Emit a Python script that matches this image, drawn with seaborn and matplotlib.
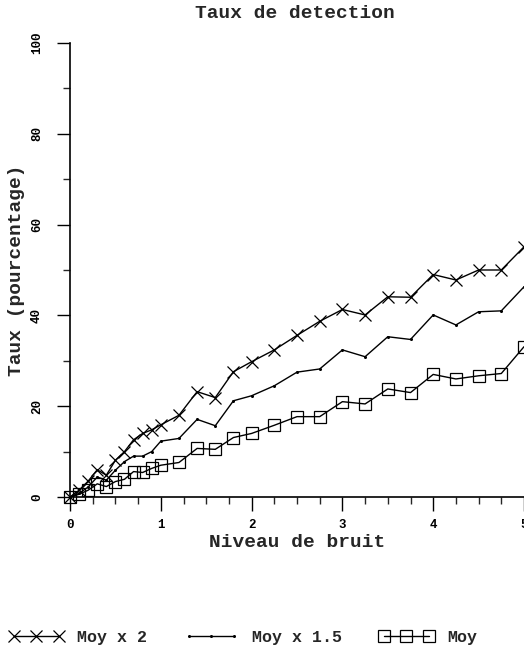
import matplotlib
matplotlib.use("Agg")
import matplotlib.pyplot as plt
import seaborn as sns
from matplotlib.ticker import MultipleLocator

# donnees
niveau = [0, 0.1, 0.2, 0.3, 0.4, 0.5, 0.6, 0.7, 0.8, 0.9, 1.0,
          1.2, 1.4, 1.6, 1.8, 2.0, 2.25, 2.5, 2.75, 3.0, 3.25,
          3.5, 3.75, 4.0, 4.25, 4.5, 4.75, 5.0]

moy_x2 = [0, 1.5, 3.5, 6.0, 4.8, 8.1, 10.0, 12.6, 14.0, 14.8, 15.9,
          18.0, 23.2, 21.9, 27.6, 29.8, 32.4, 35.6, 38.7, 41.3, 40.1,
          44.1, 44.0, 49.0, 47.8, 50.0, 50.0, 55.1]

moy_x15 = [0, 0.8, 2.2, 4.4, 3.7, 5.9, 7.8, 9.0, 9.0, 10.0, 12.3,
           12.9, 17.1, 15.7, 21.2, 22.3, 24.5, 27.5, 28.2, 32.4, 30.9,
           35.3, 34.7, 40.1, 37.9, 40.8, 41.0, 46.3]

moy = [0, 0.6, 1.5, 2.9, 2.3, 3.4, 3.9, 5.6, 5.4, 6.3, 7.0,
       7.6, 10.7, 10.5, 13.1, 14.0, 15.8, 17.7, 17.7, 21.0, 20.5,
       23.8, 23.0, 27.0, 26.0, 26.7, 27.2, 33.1]

sns.set_style("ticks")
plt.rcParams['font.family'] = ['Liberation Mono', 'DejaVu Sans Mono']
plt.rcParams['font.weight'] = 'bold'

fig = plt.figure(figsize=(5.24, 6.57), dpi=100)
ax = fig.add_axes([70/524, 160/657, 454/524, 454/657])

sns.lineplot(x=niveau, y=moy_x2, ax=ax, color="black", lw=1,
             marker="x", markersize=9, markeredgewidth=0.9,
             markeredgecolor="black",
             label="Moy x 2", clip_on=False)
sns.lineplot(x=niveau, y=moy_x15, ax=ax, color="black", lw=1,
             marker="o", markersize=2.2, markeredgewidth=0,
             markerfacecolor="black",
             label="Moy x 1.5", clip_on=False)
sns.lineplot(x=niveau, y=moy, ax=ax, color="black", lw=1,
             marker="s", markersize=8, markerfacecolor="none",
             markeredgecolor="black", markeredgewidth=0.9,
             label="Moy", clip_on=False)

ax.set_xlim(0, 5)
ax.set_ylim(0, 100)
ax.xaxis.set_major_locator(MultipleLocator(1))
ax.xaxis.set_minor_locator(MultipleLocator(0.25))
ax.yaxis.set_major_locator(MultipleLocator(20))
ax.yaxis.set_minor_locator(MultipleLocator(10))

sns.despine(ax=ax)
for s in ["left", "bottom"]:
    ax.spines[s].set_linewidth(1.2)
    ax.spines[s].set_color("black")

ax.tick_params(axis="x", which="major", length=10, width=1, pad=6,
               labelsize=9, colors="black")
ax.tick_params(axis="x", which="minor", length=5, width=1)
ax.tick_params(axis="y", which="major", length=9.5, width=1, pad=10,
               labelsize=9, colors="black", labelrotation=90)
ax.tick_params(axis="y", which="minor", length=5, width=1)
for t in ax.get_yticklabels():
    t.set_va("center")

ax.set_xlabel("Niveau de bruit", fontsize=14, fontweight="bold", labelpad=2)
ax.set_ylabel("Taux (pourcentage)", fontsize=14, fontweight="bold", labelpad=4)
fig.text(0.563, 0.98, "Taux de detection", fontsize=14, fontweight="bold",
         ha="center", va="center")

ax.get_legend().remove()
handles, labels = ax.get_legend_handles_labels()
fig.legend(handles, labels, loc="lower left", bbox_to_anchor=(-0.012, -0.005),
           ncol=3, frameon=False, numpoints=3, handlelength=3.3,
           handletextpad=0.8, columnspacing=2.2,
           prop={"family": "Liberation Mono", "weight": "bold", "size": 12})

plt.savefig("out.png", dpi=100)
